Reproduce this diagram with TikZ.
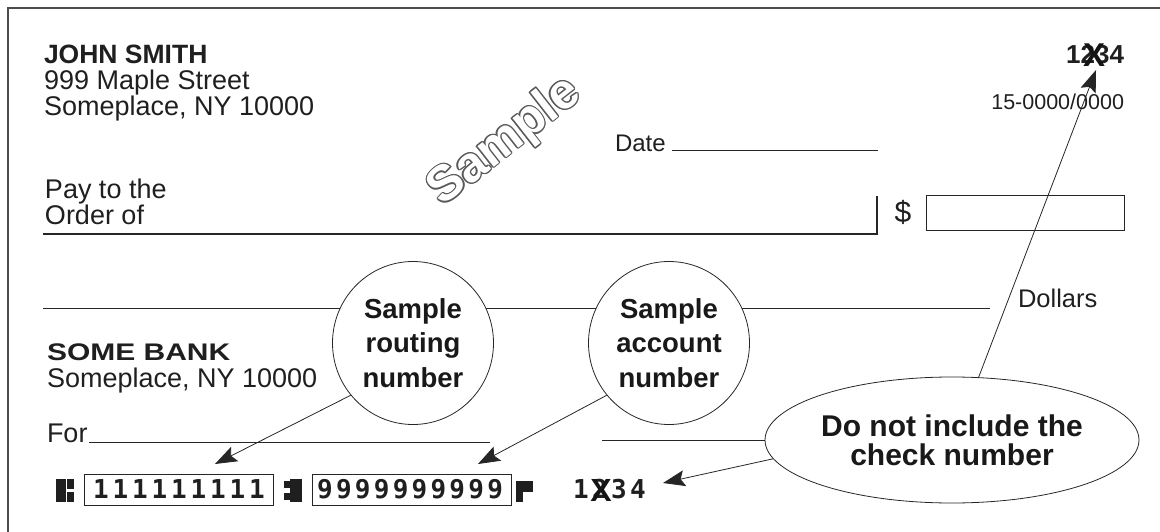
\documentclass[tikz,border=0pt]{standalone}
\usepackage{graphicx}
\usepackage{fontspec}
\setmainfont{Liberation Sans}
\newfontfamily\micrfont{DejaVu Sans Mono}
\usetikzlibrary{arrows.meta,shapes.geometric,calc}
\tikzset{
  txt/.style={inner sep=0pt, outer sep=0pt, anchor=base west, text=black!88},
  rtxt/.style={inner sep=0pt, outer sep=0pt, anchor=base east, text=black!88},
  callout/.style={draw=black!85, line width=0.8pt, fill=white, ellipse, inner sep=0pt, align=center, text=black!90,
    font=\bfseries\fontsize{27.5}{34.5}\selectfont},
  pointer/.style={draw=black!85, line width=0.8pt, -{Stealth[length=22pt,width=16pt,inset=4pt]}},
  rule/.style={draw=black!85, line width=1.1pt},
  micr/.style={inner sep=0pt, anchor=center, text=black!88, font=\micrfont\bfseries\fontsize{26}{26}\selectfont},
  blk/.style={fill=black!88, draw=none},
  body/.style={font=\fontsize{27}{27}\selectfont}
}
\begin{document}
\begin{tikzpicture}[x=1pt,y=-1pt]
\useasboundingbox (0,0) rectangle (1160,532);
% border
\draw[black!70, line width=2pt] (8,532) -- (8,8) -- (1160,8);

% owner
\node[txt, font=\bfseries\fontsize{26.5}{26.5}\selectfont] (name) at (44,64) {JOHN SMITH};
\node[txt, body] (street) at (44,90) {999 Maple Street};
\node[txt, body] (city) at (44,116) {Someplace, NY 10000};

% watermark
\foreach \a in {0,30,...,330}{
  \node[inner sep=0pt, rotate=38, text=black!65, font=\bfseries\fontsize{50}{50}\selectfont]
    (wm\a) at ($(505,142)+(\a:1.2pt)$) {Sample};
}
\node[inner sep=0pt, rotate=38, text=white, font=\bfseries\fontsize{50}{50}\selectfont] (wm) at (505,142) {Sample};

% check number top
\node[rtxt, font=\bfseries\fontsize{26}{26}\selectfont] (num) at (1124,64) {1234};
\node[inner sep=0pt, text=black!92, font=\bfseries\fontsize{33}{33}\selectfont] (numx) at (1094,55) {X};
\coordinate (numtip) at (1096,70);
\node[rtxt, font=\fontsize{21.5}{21.5}\selectfont] (fraction) at (1124,110) {15-0000/0000};

% date
\node[txt, font=\fontsize{24}{24}\selectfont] (date) at (615,152) {Date};
\draw[rule, line width=0.9pt] (672,150) -- (878,150);

% pay to
\node[txt, body] (pay) at (45,199) {Pay to the};
\node[txt, body] (order) at (45,225) {Order of};
\draw[rule] (43,234) -- (877,234) -- (877,196);
\node[inner sep=0pt, font=\fontsize{30}{30}\selectfont, text=black!88] (dollar) at (903,212) {\$};
\draw[rule, line width=1pt] (926,196) rectangle (1124,230);

% dollars line
\draw[rule, line width=0.9pt] (43,308) -- (990,308);
\node[txt, font=\fontsize{25.5}{25.5}\selectfont] (dollars) at (1018,307) {Dollars};

% bank
\node[txt, font=\bfseries\fontsize{24}{24}\selectfont] (bank) at (47,360) {\scalebox{1.25}[1]{SOME BANK}};
\node[txt, body] (bankcity) at (47,387) {Someplace, NY 10000};

% for
\node[txt, body] (for) at (47,442) {For};
\draw[rule, line width=0.9pt] (89,442) -- (490,442);
\draw[rule, line width=0.9pt] (602,440) -- (765,440);

% callouts
\node[callout, minimum width=161pt, minimum height=163pt] (rc) at (413,343) {Sample\\routing\\number};
\node[callout, minimum width=161pt, minimum height=163pt] (ac) at (669,343) {Sample\\account\\number};
\node[callout, minimum width=374pt, minimum height=126pt, font=\bfseries\fontsize{30}{29}\selectfont] (el) at (952,440) {Do not include the\\check number};

% MICR line
\fill[blk] (56,479) rectangle (66,502);
\fill[blk] (67,479) rectangle (74,489);
\fill[blk] (67,492) rectangle (74,502);
\draw[black!85, line width=1pt] (84,474) rectangle (273,505);
\foreach \i in {0,...,8}{
  \node[micr] (r\i) at ({101+19.5*\i},489) {1};
}
\fill[blk] (290,479) rectangle (302,502);
\fill[blk] (284,481) rectangle (290,488);
\fill[blk] (284,493) rectangle (290,500);
\draw[black!85, line width=1pt] (312,474) rectangle (511,505);
\foreach \i in {0,...,9}{
  \node[micr] (a\i) at ({325+18.9*\i},489) {9};
}
\fill[blk] (516,481) rectangle (523,502);
\fill[blk] (523,481) rectangle (533,492);
\foreach \d [count=\i from 0] in {1,2,3,4}{
  \node[micr] (c\i) at ({581+19*\i},489) {\d};
}
\node[inner sep=0pt, text=black!92, font=\bfseries\fontsize{32}{32}\selectfont] (cx) at (601,490) {X};

% pointers
\coordinate (rtip) at (215,464);
\coordinate (atip) at (478,464);
\coordinate (ctip) at (663,483);
\draw[pointer] (rc.220) -- (rtip);
\draw[pointer] (ac.220) -- (atip);
\draw[pointer] (el.186) -- (ctip);
\draw[pointer] (el.67) -- (numtip);
\end{tikzpicture}
\end{document}
